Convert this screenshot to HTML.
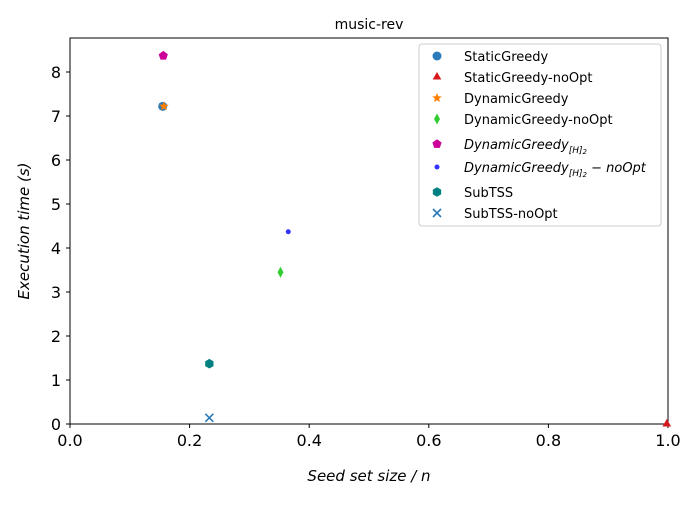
<!DOCTYPE html>
<html><head><meta charset="utf-8"><style>
body{margin:0;background:#fff}
svg{font-family:"DejaVu Sans","Liberation Sans",sans-serif}
</style></head><body>
<svg id="chart" width="700" height="500"></svg>
<script>
const seriesNames=["StaticGreedy","StaticGreedy-noOpt","DynamicGreedy","DynamicGreedy-noOpt","DynamicGreedyH2","DynamicGreedyH2-noOpt","SubTSS","SubTSS-noOpt"];
const xValues=[0.155,0.998,0.157,0.352,0.156,0.365,0.233,0.233];
const yValues=[7.22,0.0,7.22,3.45,8.37,4.37,1.37,0.14];
const colors=["#2b7bba","#d7191c","#ff7f00","#33cc33","#cc0099","#3333ff","#008080","#2b7bba"];
const markers=["circle","triangle","star","diamond","pentagon","dot","hexagon","x"];
const xTicks=[0,0.2,0.4,0.6,0.8,1.0];
const yTicks=[0,1,2,3,4,5,6,7,8];
const X0=70,X1=668,Y0=424,YT=38;
const xs=v=>X0+(X1-X0)*v;
const ys=v=>Y0-44*v;
const svg=document.getElementById('chart');
const NS="http://www.w3.org/2000/svg";
function mk(tag,attrs,parent){const e=document.createElementNS(NS,tag);for(const k in attrs)e.setAttribute(k,attrs[k]);(parent||svg).appendChild(e);return e;}
function poly(n,r,rot){let p=[];for(let i=0;i<n;i++){const a=rot+i*2*Math.PI/n;p.push((r*Math.cos(a)).toFixed(2)+","+(r*Math.sin(a)).toFixed(2));}return p.join(" ");}
function marker(type,cx,cy,color,g){
 const grp=mk('g',{transform:`translate(${cx},${cy})`},g);
 if(type==='circle')mk('circle',{r:4.5,fill:color},grp);
 else if(type==='dot')mk('circle',{r:2.5,fill:color},grp);
 else if(type==='triangle')mk('polygon',{points:poly(3,5,-Math.PI/2),fill:color},grp);
 else if(type==='star'){let p=[];for(let i=0;i<10;i++){const a=-Math.PI/2+i*Math.PI/5;const r=i%2?2.2:5;p.push(r*Math.cos(a)+","+r*Math.sin(a));}mk('polygon',{points:p.join(" "),fill:color},grp);}
 else if(type==='diamond')mk('polygon',{points:"0,-5.5 3,0 0,5.5 -3,0",fill:color},grp);
 else if(type==='pentagon')mk('polygon',{points:poly(5,4.8,-Math.PI/2),fill:color},grp);
 else if(type==='hexagon')mk('polygon',{points:poly(6,4.8,-Math.PI/2),fill:color},grp);
 else if(type==='x'){mk('path',{d:"M-4,-4L4,4M-4,4L4,-4",stroke:color,'stroke-width':1.6},grp);}
 return grp;
}
let t=mk('text',{x:369,y:29,'text-anchor':'middle','font-size':14});t.textContent="music-rev";

const frame=mk('rect',{x:X0,y:YT,width:X1-X0,height:Y0-YT,fill:'none',stroke:'#000','stroke-width':1});

xTicks.forEach(v=>{mk('line',{x1:xs(v),x2:xs(v),y1:Y0,y2:Y0+4,stroke:'#000'});
 const tx=mk('text',{x:xs(v),y:Y0+22,'text-anchor':'middle','font-size':16});tx.textContent=v.toFixed(1);
 });
yTicks.forEach(v=>{mk('line',{x1:X0-4,x2:X0,y1:ys(v),y2:ys(v),stroke:'#000'});
 const tx=mk('text',{x:X0-9,y:ys(v)+6,'text-anchor':'end','font-size':16});tx.textContent=v;
 });
t=mk('text',{x:369,y:481,'text-anchor':'middle','font-size':15,'font-style':'italic'});t.textContent="Seed set size / n";

t=mk('text',{x:0,y:0,transform:'translate(29,231) rotate(-90)','text-anchor':'middle','font-size':15,'font-style':'italic'});t.textContent="Execution time (s)";

const pts=mk('g',{});

for(let i=0;i<seriesNames.length;i++){
 const m=marker(markers[i],xs(xValues[i]),ys(yValues[i]),colors[i],pts);
 
 
}
const lg=mk('g',{});

mk('rect',{x:419,y:44,width:242,height:182,rx:3,fill:'#fff',stroke:'#ccc'},lg);
const ly=[56,77,98,119,144,167,192,213];
const labels=["StaticGreedy","StaticGreedy-noOpt","DynamicGreedy","DynamicGreedy-noOpt",null,null,"SubTSS","SubTSS-noOpt"];
for(let i=0;i<8;i++){
 const e=mk('g',{},lg);
 
 marker(markers[i],437,ly[i],colors[i],e);
 const tx=mk('text',{x:464,y:ly[i]+5,'font-size':13},e);
 if(labels[i])tx.textContent=labels[i];
 else{tx.setAttribute('font-style','italic');
  tx.innerHTML='DynamicGreedy<tspan font-size="9" dy="4">[H]</tspan><tspan font-size="7" dy="1">2</tspan>'+(i===5?'<tspan dy="-5"> − noOpt</tspan>':'');}
}
</script>
</body></html>
